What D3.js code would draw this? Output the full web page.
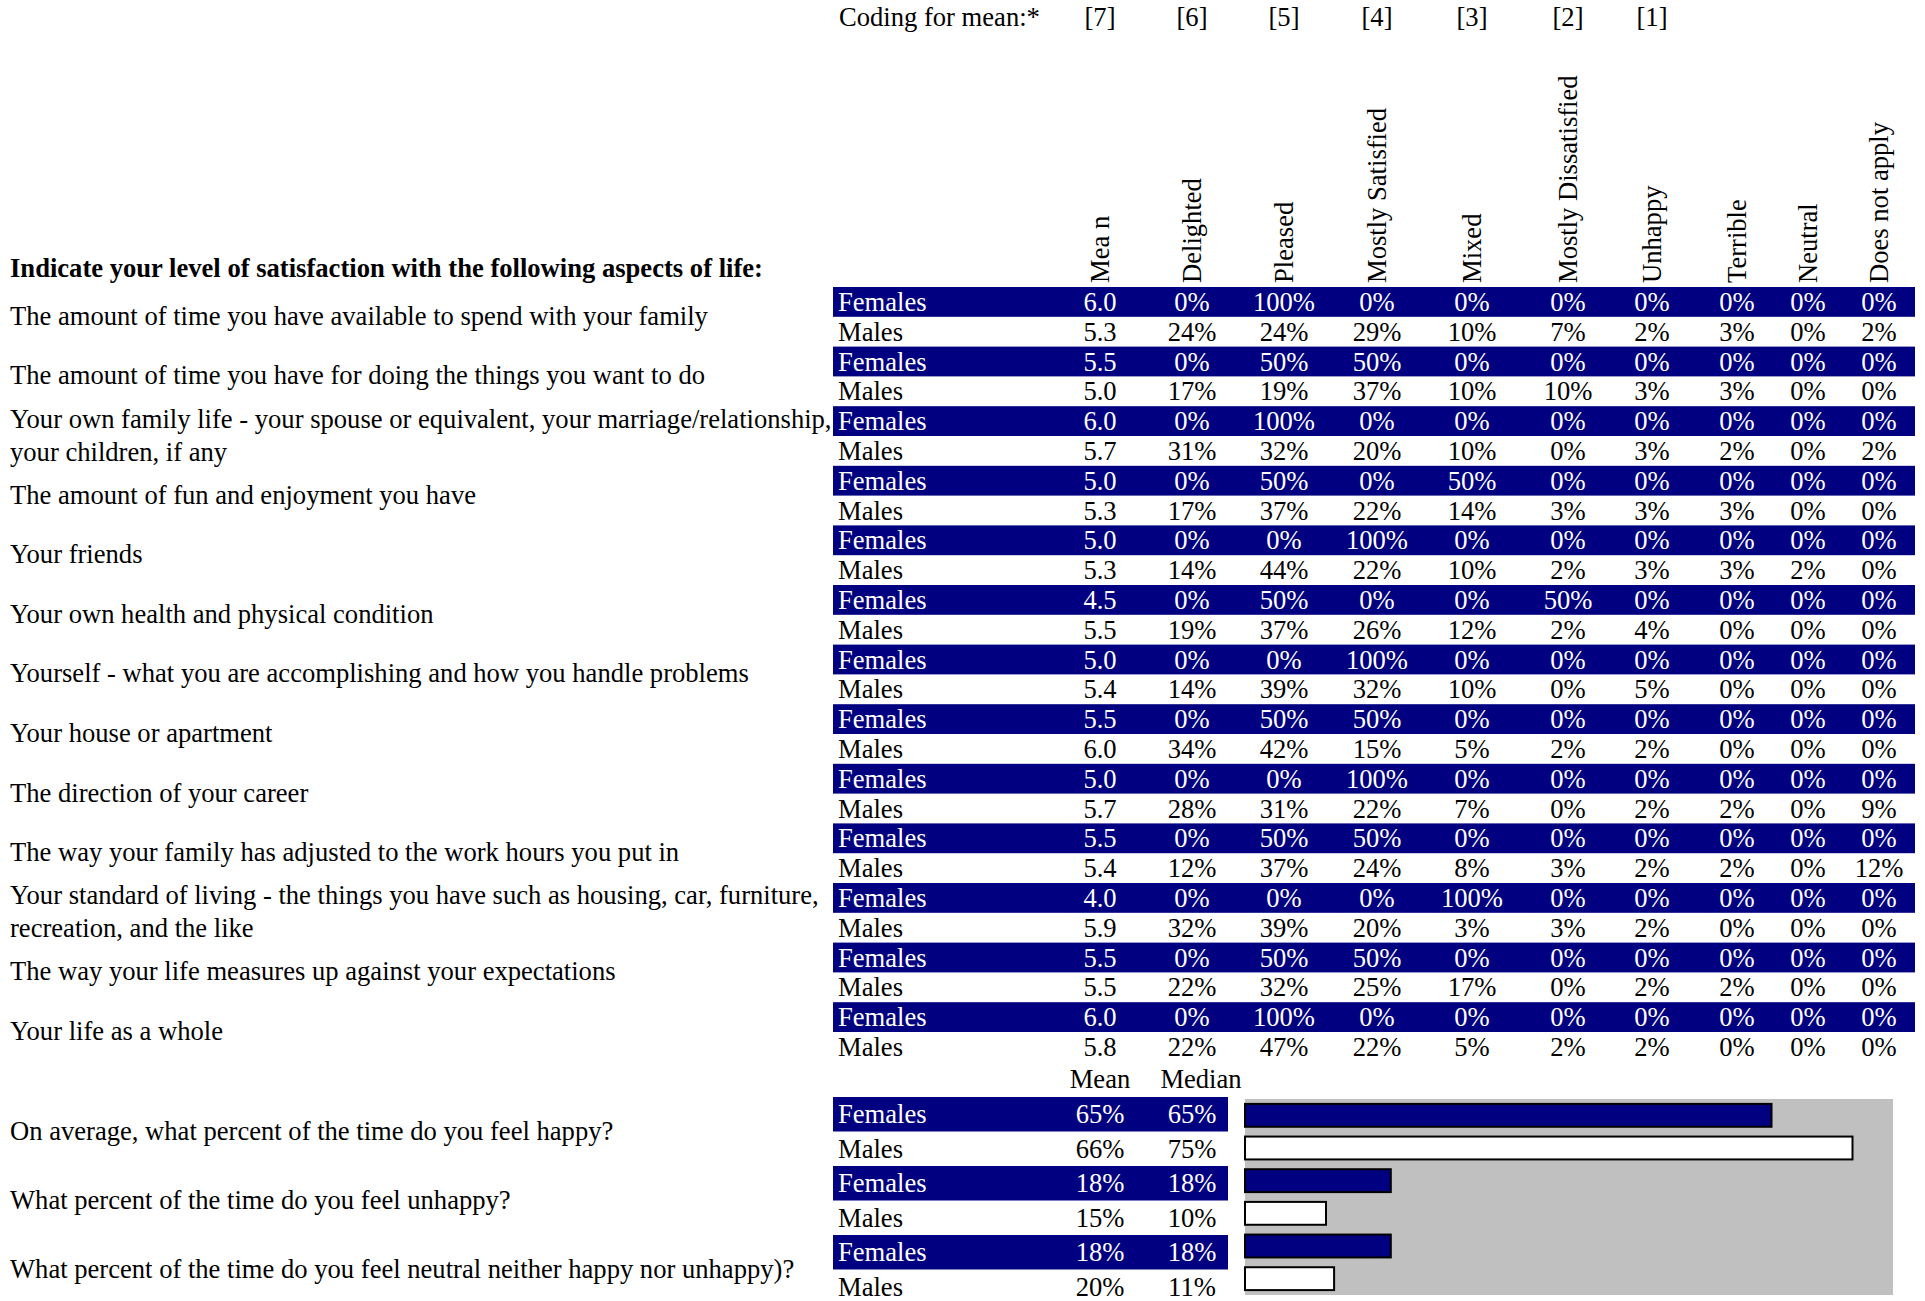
<!DOCTYPE html>
<html>
<head>
<meta charset="utf-8">
<script src="https://cdn.jsdelivr.net/npm/d3@7"></script>
<style>
  body { margin: 0; background: #fff; }
  svg text { font-family: "Liberation Serif", "Times New Roman", serif; font-size: 26.6px; }
</style>
</head>
<body>
<svg id="chart" width="1925" height="1301"></svg>
<script>
// ---- data ----
var columns = ["Mea n", "Delighted", "Pleased", "Mostly Satisfied", "Mixed",
               "Mostly Dissatisfied", "Unhappy", "Terrible", "Neutral", "Does not apply"];
var codes = ["[7]", "[6]", "[5]", "[4]", "[3]", "[2]", "[1]"];
var groups = ["Females", "Males"];

var questions = [
  ["The amount of time you have available to spend with your family"],
  ["The amount of time you have for doing the things you want to do"],
  ["Your own family life - your spouse or equivalent, your marriage/relationship,", "your children, if any"],
  ["The amount of fun and enjoyment you have"],
  ["Your friends"],
  ["Your own health and physical condition"],
  ["Yourself - what you are accomplishing and how you handle problems"],
  ["Your house or apartment"],
  ["The direction of your career"],
  ["The way your family has adjusted to the work hours you put in"],
  ["Your standard of living - the things you have such as housing, car, furniture,", "recreation, and the like"],
  ["The way your life measures up against your expectations"],
  ["Your life as a whole"]
];

var femaleMean = [6.0, 5.5, 6.0, 5.0, 5.0, 4.5, 5.0, 5.5, 5.0, 5.5, 4.0, 5.5, 6.0];
var maleMean   = [5.3, 5.0, 5.7, 5.3, 5.3, 5.5, 5.4, 6.0, 5.7, 5.4, 5.9, 5.5, 5.8];

// percentages: Delighted .. Does not apply
var femalePct = [
  [0, 100, 0, 0, 0, 0, 0, 0, 0],
  [0, 50, 50, 0, 0, 0, 0, 0, 0],
  [0, 100, 0, 0, 0, 0, 0, 0, 0],
  [0, 50, 0, 50, 0, 0, 0, 0, 0],
  [0, 0, 100, 0, 0, 0, 0, 0, 0],
  [0, 50, 0, 0, 50, 0, 0, 0, 0],
  [0, 0, 100, 0, 0, 0, 0, 0, 0],
  [0, 50, 50, 0, 0, 0, 0, 0, 0],
  [0, 0, 100, 0, 0, 0, 0, 0, 0],
  [0, 50, 50, 0, 0, 0, 0, 0, 0],
  [0, 0, 0, 100, 0, 0, 0, 0, 0],
  [0, 50, 50, 0, 0, 0, 0, 0, 0],
  [0, 100, 0, 0, 0, 0, 0, 0, 0]
];
var malePct = [
  [24, 24, 29, 10, 7, 2, 3, 0, 2],
  [17, 19, 37, 10, 10, 3, 3, 0, 0],
  [31, 32, 20, 10, 0, 3, 2, 0, 2],
  [17, 37, 22, 14, 3, 3, 3, 0, 0],
  [14, 44, 22, 10, 2, 3, 3, 2, 0],
  [19, 37, 26, 12, 2, 4, 0, 0, 0],
  [14, 39, 32, 10, 0, 5, 0, 0, 0],
  [34, 42, 15, 5, 2, 2, 0, 0, 0],
  [28, 31, 22, 7, 0, 2, 2, 0, 9],
  [12, 37, 24, 8, 3, 2, 2, 0, 12],
  [32, 39, 20, 3, 3, 2, 0, 0, 0],
  [22, 32, 25, 17, 0, 2, 2, 0, 0],
  [22, 47, 22, 5, 2, 2, 0, 0, 0]
];

var timeQuestions = [
  "On average, what percent of the time do you feel happy?",
  "What percent of the time do you feel unhappy?",
  "What percent of the time do you feel neutral neither happy nor unhappy)?"
];
var femaleTimeMean   = [65, 18, 18];
var femaleTimeMedian = [65, 18, 18];
var maleTimeMean     = [66, 15, 20];
var maleTimeMedian   = [75, 10, 11];

// ---- layout ----
var navy = "#000080";
var svg = d3.select("#chart");

var colX = d3.scaleOrdinal()
  .domain(columns)
  .range([1100, 1192, 1284, 1377, 1472, 1568, 1652, 1737, 1808, 1879]);

// flatten table rows: one per question x group
var rows = [];
questions.forEach(function(q, i) {
  rows.push({ q: i, group: "Females", mean: femaleMean[i], pct: femalePct[i] });
  rows.push({ q: i, group: "Males", mean: maleMean[i], pct: malePct[i] });
});

var y = d3.scaleBand()
  .domain(d3.range(rows.length))
  .range([287, 287 + rows.length * 29.8]);

// header
svg.append("text").attr("x", 839).attr("y", 26).text("Coding for mean:*");
svg.selectAll(".code").data(codes).enter().append("text")
  .attr("class", "code")
  .attr("x", function(d, i) { return colX(columns[i]); })
  .attr("y", 26)
  .attr("text-anchor", "middle")
  .text(function(d) { return d; });

svg.selectAll(".colhead").data(columns).enter().append("text")
  .attr("class", "colhead")
  .attr("transform", function(d) { return "translate(" + colX(d) + ",283)rotate(-90)"; })
  .attr("dy", "0.35em")
  .text(function(d) { return d; });

svg.append("text")
  .attr("x", 10).attr("y", 277)
  .style("font-weight", "bold")
  .text("Indicate your level of satisfaction with the following aspects of life:");

// question labels
var qLab = svg.selectAll(".qlab").data(questions).enter().append("text")
  .attr("class", "qlab")
  .attr("x", 10);
qLab.each(function(lines, i) {
  var cy = y(i * 2) + y.bandwidth();
  var t = d3.select(this);
  lines.forEach(function(l, j) {
    t.append("tspan")
      .attr("x", 10)
      .attr("y", cy + 8 + (j - (lines.length - 1) / 2) * 33)
      .text(l);
  });
});

// table rows
var row = svg.selectAll(".row").data(rows).enter().append("g")
  .attr("class", "row")
  .attr("transform", function(d, i) { return "translate(0," + y(i) + ")"; });

row.filter(function(d) { return d.group === "Females"; })
  .append("rect")
  .attr("x", 833).attr("width", 1915 - 833)
  .attr("height", y.bandwidth())
  .attr("fill", navy);

row.append("text")
  .attr("x", 838)
  .attr("y", y.bandwidth() / 2 + 9)
  .attr("fill", function(d) { return d.group === "Females" ? "#fff" : "#000"; })
  .text(function(d) { return d.group; });

row.selectAll(".cell")
  .data(function(d) {
    var vals = [d.mean.toFixed(1)].concat(d.pct.map(function(p) { return p + "%"; }));
    return vals.map(function(v, k) { return { v: v, col: columns[k], g: d.group }; });
  })
  .enter().append("text")
  .attr("class", "cell")
  .attr("x", function(d) { return colX(d.col); })
  .attr("y", y.bandwidth() / 2 + 9)
  .attr("text-anchor", "middle")
  .attr("fill", function(d) { return d.g === "Females" ? "#fff" : "#000"; })
  .text(function(d) { return d.v; });

// ---- time section ----
var tRows = [];
timeQuestions.forEach(function(q, i) {
  tRows.push({ q: i, group: "Females", mean: femaleTimeMean[i], median: femaleTimeMedian[i] });
  tRows.push({ q: i, group: "Males", mean: maleTimeMean[i], median: maleTimeMedian[i] });
});

var ty = d3.scaleBand()
  .domain(d3.range(tRows.length))
  .range([1097, 1097 + tRows.length * 34.5]);

svg.append("text").attr("x", 1100).attr("y", 1088).attr("text-anchor", "middle").text("Mean");
svg.append("text").attr("x", 1201).attr("y", 1088).attr("text-anchor", "middle").text("Median");

svg.selectAll(".tq").data(timeQuestions).enter().append("text")
  .attr("class", "tq")
  .attr("x", 10)
  .attr("y", function(d, i) { return ty(i * 2) + ty.bandwidth() + 8; })
  .text(function(d) { return d; });

var tRow = svg.selectAll(".trow").data(tRows).enter().append("g")
  .attr("class", "trow")
  .attr("transform", function(d, i) { return "translate(0," + ty(i) + ")"; });

tRow.filter(function(d) { return d.group === "Females"; })
  .append("rect")
  .attr("x", 833).attr("width", 1228 - 833)
  .attr("height", ty.bandwidth())
  .attr("fill", navy);

function tColor(d) { return d.group === "Females" ? "#fff" : "#000"; }

tRow.append("text")
  .attr("x", 838).attr("y", ty.bandwidth() / 2 + 9)
  .attr("fill", tColor)
  .text(function(d) { return d.group; });
tRow.append("text")
  .attr("x", 1100).attr("y", ty.bandwidth() / 2 + 9)
  .attr("text-anchor", "middle")
  .attr("fill", tColor)
  .text(function(d) { return d.mean + "%"; });
tRow.append("text")
  .attr("x", 1192).attr("y", ty.bandwidth() / 2 + 9)
  .attr("text-anchor", "middle")
  .attr("fill", tColor)
  .text(function(d) { return d.median + "%"; });

// bar chart of medians
var bx = d3.scaleLinear().domain([0, 80]).range([1245, 1893]);
var by = d3.scaleBand()
  .domain(d3.range(tRows.length))
  .range([1099, 1295])
  .paddingInner(0.3)
  .paddingOuter(0.15);

svg.append("rect")
  .attr("x", bx(0)).attr("y", 1099)
  .attr("width", bx(80) - bx(0)).attr("height", 1295 - 1099)
  .attr("fill", "#c0c0c0");

svg.selectAll(".bar").data(tRows).enter().append("rect")
  .attr("class", "bar")
  .attr("x", bx(0))
  .attr("y", function(d, i) { return by(i); })
  .attr("width", function(d) { return bx(d.median) - bx(0); })
  .attr("height", by.bandwidth())
  .attr("fill", function(d) { return d.group === "Females" ? navy : "#fff"; })
  .attr("stroke", "#000")
  .attr("stroke-width", 2);
</script>
</body>
</html>
